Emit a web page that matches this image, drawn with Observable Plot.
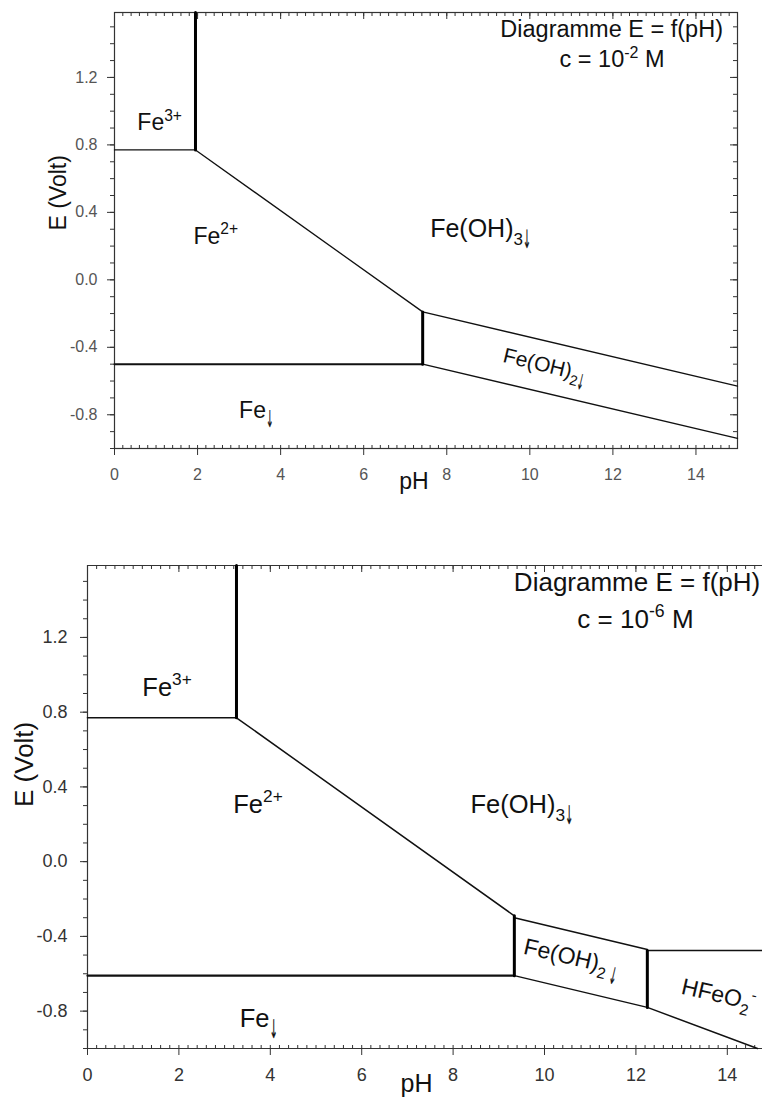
<!DOCTYPE html>
<html><head><meta charset="utf-8">
<script src="https://cdn.jsdelivr.net/npm/d3@7"></script>
<script src="https://cdn.jsdelivr.net/npm/@observablehq/plot@0.6"></script>
<style>
html,body{margin:0;padding:0;background:#fff;overflow:hidden;}
#c1{position:absolute;left:0;top:0;}
#c2{position:absolute;left:0;top:540px;}
</style></head>
<body><div id="c1"></div><div id="c2"></div>
<script>
// ---------- shared axes ----------
const yDomain = [-1, 1.585];
const yTicks = [-0.8, -0.4, 0, 0.4, 0.8, 1.2];
const yTickLabels = ["-0.8", "-0.4", "0.0", "0.4", "0.8", "1.2"];
const xTicks = [0, 2, 4, 6, 8, 10, 12, 14];
const xTickLabels = ["0", "2", "4", "6", "8", "10", "12", "14"];
const xMinorAll = d3.range(0, 15.001, 0.2).map(v => +v.toFixed(1));
const yMinor = d3.range(-1, 1.59, 0.1).map(v => +v.toFixed(1));

// ---------- diagram 1 : c = 1e-2 M  (boundaries as [pH, E] vertices) ----------
const d1_Fe3_Fe2     = [[0, 0.77], [1.95, 0.77]];
const d1_FeOH3_Fe2   = [[1.95, 0.77], [7.42, -0.19]];
const d1_FeOH3_FeOH2 = [[7.42, -0.19], [15, -0.63]];
const d1_FeOH2_Fe    = [[7.42, -0.50], [15, -0.94]];
const d1_Fe2_Fe      = [[0, -0.50], [7.42, -0.50]];
const d1_Fe3_FeOH3   = [[1.95, 0.77], [1.95, 1.585]];
const d1_Fe2_FeOH2   = [[7.42, -0.50], [7.42, -0.19]];
const d1Labels  = ["Fe^{3+}", "Fe^{2+}", "Fe_{↓}"];
const d1LabelPH = [0.55, 1.90, 3.0];
const d1LabelE  = [0.886, 0.212, -0.818];
const d1Precip  = ["Fe(OH)_{3↓}"];
const d1PrecipPH = [7.60];
const d1PrecipE  = [0.252];
const d1Rot     = ["Fe(OH)_{2↓}"];
const d1RotPH   = [9.33];
const d1RotE    = [-0.486];
const d1Title   = ["Diagramme E = f(pH)"];
const d1TitlePH = [14.65];
const d1TitleE  = [1.437];
const d1Conc    = ["c = 10^{-2} M"];
const d1ConcPH  = [11.98];
const d1ConcE   = [1.259];

// ---------- diagram 2 : c = 1e-6 M ----------
const d2_Fe3_Fe2     = [[0, 0.77], [3.26, 0.77]];
const d2_FeOH3_Fe2   = [[3.26, 0.77], [9.34, -0.29]];
const d2_FeOH3_FeOH2 = [[9.34, -0.30], [12.25, -0.47]];
const d2_FeOH3_HFeO2 = [[12.25, -0.475], [14.77, -0.475]];
const d2_FeOH2_Fe    = [[9.34, -0.61], [12.25, -0.78]];
const d2_HFeO2_Fe    = [[12.25, -0.78], [14.66, -1.0]];
const d2_Fe2_Fe      = [[0, -0.61], [9.34, -0.61]];
const d2_Fe3_FeOH3   = [[3.26, 0.77], [3.26, 1.585]];
const d2_Fe2_FeOH2   = [[9.34, -0.61], [9.34, -0.29]];
const d2_FeOH2_HFeO2 = [[12.25, -0.78], [12.25, -0.475]];
const d2Labels  = ["Fe^{3+}", "Fe^{2+}", "Fe(OH)_{3↓}", "Fe_{↓}"];
const d2LabelPH = [1.20, 3.19, 8.38, 3.33];
const d2LabelE  = [0.889, 0.263, 0.259, -0.887];
const d2Rot     = ["Fe(OH)_{2 ↓}", "HFeO_{2}^{-}"];
const d2RotPH   = [9.52, 12.97];
const d2RotE    = [-0.491, -0.705];
const d2Title   = ["Diagramme E = f(pH)"];
const d2TitlePH = [14.72];
const d2TitleE  = [1.451];
const d2Conc    = ["c = 10^{-6} M"];
const d2ConcPH  = [11.99];
const d2ConcE   = [1.253];

const FONT = "'Liberation Sans', Arial, Helvetica, sans-serif";
const px = d => d[0], py = d => d[1];

function axes(o) {
  const xMinor = xMinorAll.filter(v => v <= o.xmax + 1e-9);
  const xMajor = xTicks.filter(v => v <= o.xmax + 1e-9);
  const st = o.axisColor;
  const m = [
    Plot.axisY({anchor: "left", ticks: yMinor, tickSize: 4, fill: "none", stroke: st, label: null}),
    Plot.axisY({anchor: "left", ticks: yTicks, tickSize: 7, tickPadding: o.yPad, fontSize: o.tickFont,
      tickFormat: d => yTickLabels[yTicks.indexOf(d)], fill: o.tickColor, stroke: st, label: null}),
    Plot.axisX({anchor: "top", frameAnchor: "bottom", ticks: xMinor, tickSize: 4, fill: "none", stroke: st, label: null}),
    Plot.axisX({anchor: "bottom", ticks: xMajor, tickSize: 7, tickPadding: o.xPad, fontSize: o.tickFont,
      tickFormat: d => xTickLabels[xTicks.indexOf(d)], fill: o.tickColor, stroke: st, label: null}),
    Plot.axisX({anchor: "bottom", frameAnchor: "top", ticks: xMinor, tickSize: 4, fill: "none", stroke: st, label: null}),
    Plot.axisX({anchor: "bottom", frameAnchor: "top", ticks: xMajor, tickSize: 7, fill: "none", stroke: st, label: null})
  ];
  if (o.right) {
    m.push(Plot.axisY({anchor: "left", frameAnchor: "right", ticks: yMinor, tickSize: 4, fill: "none", stroke: st, label: null}));
    m.push(Plot.axisY({anchor: "left", frameAnchor: "right", ticks: yTicks, tickSize: 7, fill: "none", stroke: st, label: null}));
  }
  return m;
}

// turns ^{..} / _{..} markup of Plot's text marks into tspans (arrow ↓ drawn tall and thin)
function richText(root) {
  const ns = "http://www.w3.org/2000/svg";
  root.querySelectorAll("text").forEach(t => {
    const s = t.textContent;
    if (!/[_^]\{/.test(s)) return;
    const fs = parseFloat(getComputedStyle(t).fontSize) || 16;
    while (t.firstChild) t.removeChild(t.firstChild);
    const parts = [];
    const re = /([_^])\{([^}]*)\}|([^_^]+)/g;
    let m;
    while ((m = re.exec(s))) {
      if (m[3]) { parts.push({txt: m[3], off: 0, size: fs}); continue; }
      const off = m[1] === "^" ? -0.42 * fs : 0.30 * fs;
      m[2].split(/(↓)/).forEach(seg => {
        if (!seg) return;
        if (seg === "↓") parts.push({txt: seg, off: 0.42 * fs, size: 1.0 * fs, arrow: true});
        else parts.push({txt: seg, off, size: 0.68 * fs});
      });
    }
    let cur = 0;
    parts.forEach(p => {
      const ts = document.createElementNS(ns, "tspan");
      ts.textContent = p.txt;
      if (p.size !== fs) ts.setAttribute("font-size", p.size.toFixed(1));
      if (p.off - cur !== 0) ts.setAttribute("dy", (p.off - cur).toFixed(2));
      if (p.arrow) {
        ts.setAttribute("font-family", "'DejaVu Sans', 'Liberation Sans', sans-serif");
        ts.setAttribute("textLength", (0.32 * p.size).toFixed(1));
        ts.setAttribute("lengthAdjust", "spacingAndGlyphs");
        ts.setAttribute("stroke", "#111");
        ts.setAttribute("stroke-width", "0.35");
      }
      cur = p.off;
      t.appendChild(ts);
    });
  });
}

// ---------- chart 1 ----------
const o1 = {xmax: 15, axisColor: "#333", tickColor: "#555", tickFont: 16, yPad: 10, xPad: 13, right: true};
const lab1 = {textAnchor: "start", lineAnchor: "bottom", fill: "#111", fontSize: 23};
const chart1 = Plot.plot({
  width: 762, height: 495,
  marginLeft: 114, marginRight: 25, marginTop: 12, marginBottom: 47,
  style: {fontFamily: FONT, background: "#fff"},
  x: {domain: [0, 15]},
  y: {domain: yDomain},
  marks: [
    Plot.frame({stroke: "#333", strokeWidth: 1.2}),
    ...axes(o1),
    Plot.line(d1_Fe3_Fe2, {x: px, y: py, stroke: "#111", strokeWidth: 1.3}),
    Plot.line(d1_FeOH3_Fe2, {x: px, y: py, stroke: "#111", strokeWidth: 1.3}),
    Plot.line(d1_FeOH3_FeOH2, {x: px, y: py, stroke: "#111", strokeWidth: 1.3}),
    Plot.line(d1_FeOH2_Fe, {x: px, y: py, stroke: "#111", strokeWidth: 1.3}),
    Plot.line(d1_Fe2_Fe, {x: px, y: py, stroke: "#111", strokeWidth: 2}),
    Plot.line(d1_Fe3_FeOH3, {x: px, y: py, stroke: "#000", strokeWidth: 3}),
    Plot.line(d1_Fe2_FeOH2, {x: px, y: py, stroke: "#000", strokeWidth: 3}),
    Plot.text(d1Labels, {x: d1LabelPH, y: d1LabelE, text: d => d, ...lab1}),
    Plot.text(d1Precip, {x: d1PrecipPH, y: d1PrecipE, text: d => d, ...lab1, fontSize: 25}),
    Plot.text(d1Rot, {x: d1RotPH, y: d1RotE, text: d => d, ...lab1, fontSize: 21, rotate: 13.5}),
    Plot.text(d1Title, {x: d1TitlePH, y: d1TitleE, text: d => d, textAnchor: "end", lineAnchor: "bottom", fill: "#111", fontSize: 23.5}),
    Plot.text(d1Conc, {x: d1ConcPH, y: d1ConcE, text: d => d, textAnchor: "middle", lineAnchor: "bottom", fill: "#111", fontSize: 23.5}),
    Plot.text(["E (Volt)"], {frameAnchor: "left", text: d => d, rotate: -90, dx: -56, lineAnchor: "middle", fill: "#111", fontSize: 23}),
    Plot.text(["pH"], {frameAnchor: "bottom", text: d => d, dx: -12, dy: 40, lineAnchor: "bottom", fill: "#111", fontSize: 23})
  ]
});
document.getElementById("c1").appendChild(chart1);
richText(chart1);

// ---------- chart 2 ----------
const o2 = {xmax: 14.77, axisColor: "#333", tickColor: "#333", tickFont: 18, yPad: 13, xPad: 13, right: false};
const lab2 = {textAnchor: "start", lineAnchor: "bottom", fill: "#111", fontSize: 25.5};
const chart2 = Plot.plot({
  width: 762, height: 558,
  marginLeft: 87, marginRight: 0, marginTop: 25, marginBottom: 50,
  style: {fontFamily: FONT, background: "#fff"},
  x: {domain: [0, 14.77]},
  y: {domain: yDomain},
  marks: [
    Plot.ruleX([0], {stroke: "#333", strokeWidth: 1.2}),
    Plot.ruleY([yDomain[0], yDomain[1]], {stroke: "#333", strokeWidth: 1.2}),
    ...axes(o2),
    Plot.line(d2_Fe3_Fe2, {x: px, y: py, stroke: "#111", strokeWidth: 1.6}),
    Plot.line(d2_FeOH3_Fe2, {x: px, y: py, stroke: "#111", strokeWidth: 1.5}),
    Plot.line(d2_FeOH3_FeOH2, {x: px, y: py, stroke: "#111", strokeWidth: 1.5}),
    Plot.line(d2_FeOH3_HFeO2, {x: px, y: py, stroke: "#111", strokeWidth: 1.5}),
    Plot.line(d2_FeOH2_Fe, {x: px, y: py, stroke: "#111", strokeWidth: 1.5}),
    Plot.line(d2_HFeO2_Fe, {x: px, y: py, stroke: "#111", strokeWidth: 1.5}),
    Plot.line(d2_Fe2_Fe, {x: px, y: py, stroke: "#111", strokeWidth: 2.2}),
    Plot.line(d2_Fe3_FeOH3, {x: px, y: py, stroke: "#000", strokeWidth: 3}),
    Plot.line(d2_Fe2_FeOH2, {x: px, y: py, stroke: "#000", strokeWidth: 3}),
    Plot.line(d2_FeOH2_HFeO2, {x: px, y: py, stroke: "#000", strokeWidth: 3}),
    Plot.text(d2Labels, {x: d2LabelPH, y: d2LabelE, text: d => d, ...lab2}),
    Plot.text(d2Rot, {x: d2RotPH, y: d2RotE, text: d => d, ...lab2, fontSize: 23, rotate: 13}),
    Plot.text(d2Title, {x: d2TitlePH, y: d2TitleE, text: d => d, textAnchor: "end", lineAnchor: "bottom", fill: "#111", fontSize: 26}),
    Plot.text(d2Conc, {x: d2ConcPH, y: d2ConcE, text: d => d, textAnchor: "middle", lineAnchor: "bottom", fill: "#111", fontSize: 26}),
    Plot.text(["E (Volt)"], {frameAnchor: "left", text: d => d, rotate: -90, dx: -63, lineAnchor: "middle", fill: "#111", fontSize: 26}),
    Plot.text(["pH"], {frameAnchor: "bottom", text: d => d, dx: -8.5, dy: 43, lineAnchor: "bottom", fill: "#111", fontSize: 25})
  ]
});
document.getElementById("c2").appendChild(chart2);
richText(chart2);
</script>
</body></html>
